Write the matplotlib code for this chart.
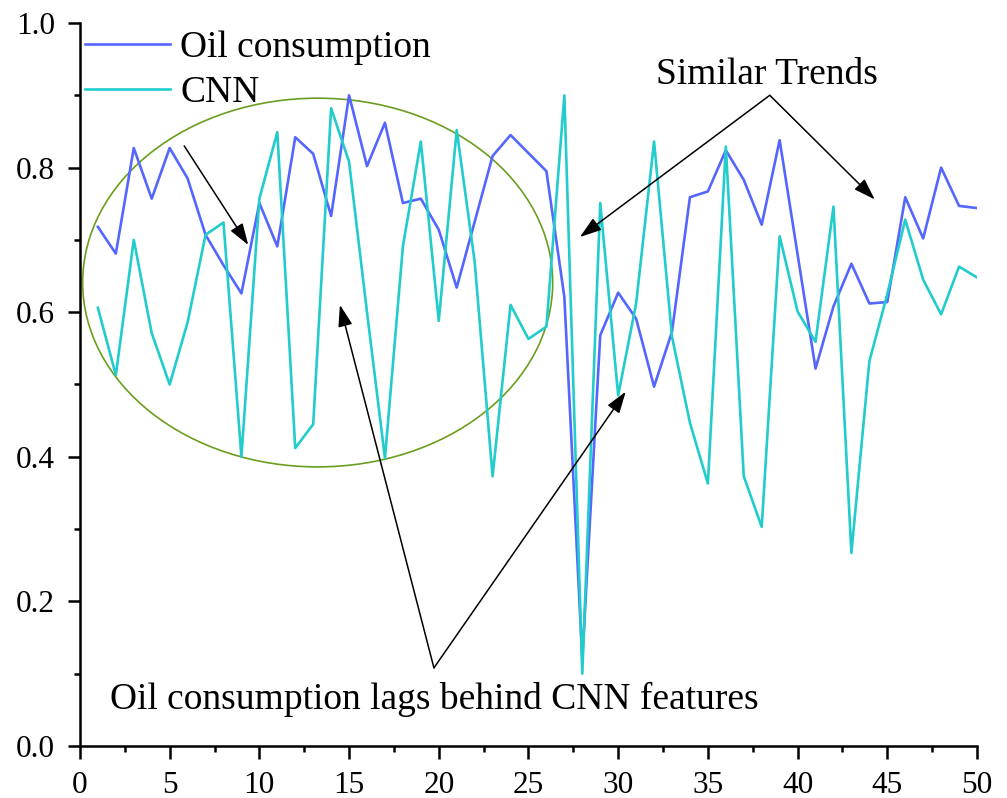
import matplotlib
matplotlib.use('Agg')
import matplotlib.pyplot as plt
from matplotlib.patches import Ellipse
from matplotlib.ticker import MultipleLocator, FormatStrFormatter

plt.rcParams['font.family'] = ['Liberation Serif', 'DejaVu Serif']

# sample index and the two series
steps = list(range(1, 51))
oil = [0.718, 0.681, 0.827, 0.757, 0.827, 0.785, 0.707, 0.665, 0.626, 0.751,
       0.691, 0.842, 0.819, 0.733, 0.900, 0.802, 0.862, 0.751, 0.757, 0.714,
       0.634, 0.725, 0.816, 0.845, 0.820, 0.795, 0.621, 0.120, 0.568, 0.627,
       0.591, 0.497, 0.573, 0.759, 0.767, 0.824, 0.783, 0.721, 0.838, 0.680,
       0.522, 0.608, 0.667, 0.612, 0.614, 0.759, 0.702, 0.800, 0.747, 0.744]
cnn = [0.606, 0.513, 0.700, 0.571, 0.500, 0.586, 0.707, 0.724, 0.400, 0.757,
       0.849, 0.412, 0.445, 0.882, 0.808, 0.600, 0.398, 0.691, 0.836, 0.588,
       0.852, 0.670, 0.373, 0.610, 0.563, 0.580, 0.900, 0.100, 0.751, 0.485,
       0.612, 0.836, 0.566, 0.447, 0.363, 0.829, 0.373, 0.303, 0.705, 0.601,
       0.559, 0.746, 0.267, 0.532, 0.625, 0.728, 0.645, 0.597, 0.663, 0.648]

fig = plt.figure(figsize=(10.07, 7.98), dpi=100)
ax = fig.add_axes([0.0794, 0.0652, 0.8908, 0.906])

ax.plot(steps, oil, color='#5566ff', lw=1.9, label='Oil consumption')
ax.plot(steps, cnn, color='#22cccc', lw=1.9, label='CNN')

ax.set_xlim(0, 50)
ax.set_ylim(0, 1.0)
ax.xaxis.set_major_locator(MultipleLocator(5))
ax.xaxis.set_minor_locator(MultipleLocator(2.5))
ax.yaxis.set_major_locator(MultipleLocator(0.2))
ax.yaxis.set_minor_locator(MultipleLocator(0.1))
ax.yaxis.set_major_formatter(FormatStrFormatter('%.1f'))

for side in ['top', 'right']:
    ax.spines[side].set_visible(False)
for side in ['left', 'bottom']:
    ax.spines[side].set_linewidth(1.8)
ax.tick_params(which='major', direction='out', length=9, width=1.8, labelsize=22.5, pad=9)
ax.tick_params(which='minor', direction='out', length=4, width=1.8)

ax.legend(loc='upper left', bbox_to_anchor=(0.0056, 0.99), frameon=False, fontsize=27,
          handlelength=2.27, handletextpad=0.27, labelspacing=0.28,
          borderaxespad=0, borderpad=0)

# region where the CNN series leads
ax.add_patch(Ellipse((13.25, 0.641), 26.2, 0.510, fill=False,
                     edgecolor='#6b9e1f', lw=1.2))

arrow = dict(arrowstyle='-|>,head_length=0.6,head_width=0.2', color='black',
             lw=1.1, mutation_scale=22, shrinkA=0, shrinkB=0)

ax.annotate('', xy=(9.38, 0.693), xytext=(5.81, 0.830), arrowprops=arrow)

ax.text(38.3, 0.928, 'Similar Trends', fontsize=27, ha='center', va='center')
ax.annotate('', xy=(27.87, 0.704), xytext=(38.45, 0.900), arrowprops=arrow)
ax.annotate('', xy=(44.3, 0.756), xytext=(38.45, 0.900), arrowprops=arrow)

ax.text(19.73, 0.064, 'Oil consumption lags behind CNN features', fontsize=27,
        ha='center', va='center')
ax.annotate('', xy=(14.49, 0.610), xytext=(19.73, 0.108), arrowprops=arrow)
ax.annotate('', xy=(30.42, 0.490), xytext=(19.73, 0.108), arrowprops=arrow)

fig.savefig('out.png', dpi=100)
